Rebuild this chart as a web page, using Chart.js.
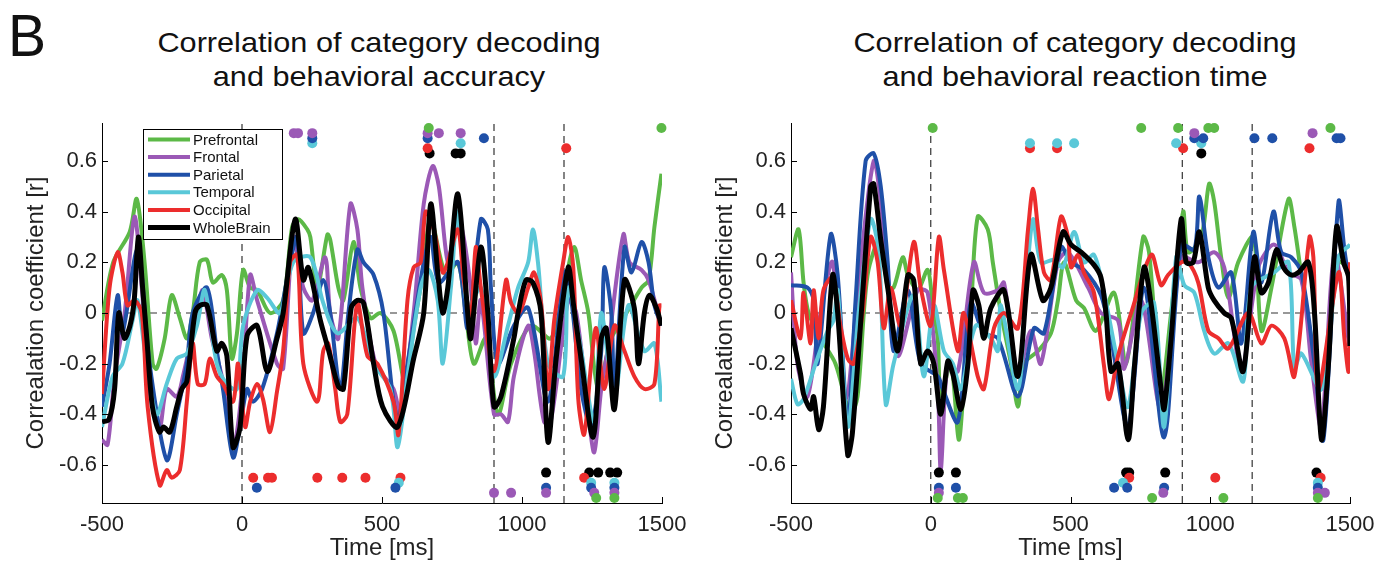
<!DOCTYPE html>
<html lang="en">
<head>
<meta charset="UTF-8">
<title>Correlation of category decoding</title>
<script src="https://cdn.jsdelivr.net/npm/chart.js"></script>
<style>
  body { margin: 0; width: 1394px; height: 567px; background: #fff; position: relative; overflow: hidden;
         font-family: "Liberation Sans", Arial, sans-serif; color: #111; }
  .painel { position: absolute; top: 0; width: 697px; height: 567px; }
  .titulo { position: absolute; top: 26px; width: 600px; text-align: center; font-size: 28px; line-height: 34px;
            transform: scaleX(1.095); transform-origin: center; }
  .letra { position: absolute; left: 8px; top: 6px; font-size: 60px; line-height: 60px;
           transform: scaleX(0.95); transform-origin: left; }
</style>
</head>
<body>
<div class="letra">B</div>
<div class="titulo" style="left:79px">Correlation of category decoding<br>and behavioral accuracy</div>
<div class="titulo" style="left:775px">Correlation of category decoding<br>and behavioral reaction time</div>
<div class="painel" style="left:0"><canvas id="graficoAcuracia"></canvas></div>
<div class="painel" style="left:697px"><canvas id="graficoTempo"></canvas></div>

<script>
  // regiões e cores
  const regioes = ['Prefrontal', 'Frontal', 'Parietal', 'Temporal', 'Occipital', 'WholeBrain'];
  const cores = ['#5cb947', '#9b59b6', '#1f50a8', '#5ac8d8', '#ec2d2d', '#000000'];
  const xTicks = [-500, 0, 500, 1000, 1500];
  const yTicks = [-0.6, -0.4, -0.2, 0, 0.2, 0.4, 0.6];
  const linhasRef = [0, 900, 1150];
  const nivelTopo = [0.73, 0.71, 0.69, 0.67, 0.65, 0.63];
  const nivelBase = [-0.73, -0.71, -0.69, -0.67, -0.65, -0.63];

  // acurácia [tempo ms, r]
  const accPrefrontal = [[-500,-0.03],[-460,0.2],[-401,0.32],[-376,0.45],[-348,0.2],[-319,-0.2],[-305,-0.22],[-276,-0.1],[-251,0.07],[-222,-0.02],[-197,-0.1],[-176,0.0],[-151,0.2],[-125,0.21],[-104,0.12],[-72,0.15],[-54,0.09],[-36,-0.18],[-18,-0.08],[4,0.17],[29,0.1],[54,0.09],[100,0.0],[147,0.05],[179,0.34],[201,0.37],[233,0.33],[244,0.3],[269,0.1],[305,0.31],[315,0.29],[344,0.1],[362,0.05],[398,0.28],[423,0.1],[459,-0.02],[495,0.0],[541,-0.07],[584,-0.28],[613,-0.06],[645,0.15],[674,0.37],[728,0.15],[771,0.2],[799,0.0],[828,-0.2],[871,-0.1],[914,-0.4],[961,-0.2],[1032,-0.05],[1104,-0.1],[1150,0.1],[1186,0.26],[1211,0.13],[1237,0.0],[1272,-0.3],[1319,-0.1],[1373,0.0],[1427,0.1],[1452,0.13],[1473,0.34],[1498,0.55]];
  const accFrontal = [[-500,-0.5],[-480,-0.52],[-455,-0.25],[-419,0.0],[-384,0.38],[-358,0.1],[-330,-0.3],[-294,-0.45],[-269,-0.3],[-233,-0.33],[-211,-0.25],[-161,0.0],[-140,0.09],[-108,-0.1],[-72,-0.25],[-32,-0.53],[0,-0.3],[29,0.15],[54,0.05],[125,-0.2],[147,-0.22],[183,0.3],[219,0.1],[251,0.05],[297,0.22],[315,0.0],[344,-0.1],[387,0.43],[412,0.33],[430,0.1],[477,-0.2],[541,-0.3],[566,-0.4],[613,0.0],[649,0.43],[681,0.58],[703,0.5],[735,0.2],[756,0.3],[781,0.35],[817,0.1],[835,-0.12],[853,0.05],[900,-0.4],[925,-0.4],[950,-0.43],[971,-0.25],[1022,-0.05],[1043,-0.15],[1079,-0.43],[1104,-0.42],[1165,0.05],[1194,0.0],[1237,-0.4],[1258,-0.55],[1283,-0.3],[1308,-0.13],[1362,0.31],[1384,0.2],[1427,0.17],[1452,0.13],[1498,-0.05]];
  const accParietal = [[-500,-0.37],[-473,-0.2],[-444,0.07],[-427,-0.08],[-373,0.25],[-330,-0.2],[-269,-0.58],[-233,-0.4],[-197,-0.2],[-176,0.0],[-125,0.1],[-90,-0.15],[-68,-0.3],[-32,-0.57],[-7,-0.45],[18,-0.3],[39,-0.35],[72,-0.3],[125,-0.08],[172,0.2],[197,0.3],[219,-0.08],[254,0.0],[290,0.13],[315,0.0],[351,-0.3],[380,0.0],[412,0.25],[434,0.2],[470,0.15],[505,0.0],[541,-0.35],[559,-0.42],[591,-0.2],[649,0.2],[674,0.3],[703,0.12],[771,0.2],[806,-0.06],[853,0.37],[878,0.33],[889,0.1],[914,-0.2],[971,-0.05],[1022,0.02],[1093,-0.35],[1151,0.16],[1176,0.05],[1211,-0.3],[1247,-0.45],[1283,-0.15],[1294,0.18],[1319,0.0],[1330,-0.33],[1366,0.26],[1391,0.16],[1427,0.28],[1452,0.2],[1473,0.03],[1498,-0.05]];
  const accTemporal = [[-500,-0.45],[-462,-0.25],[-427,-0.2],[-391,-0.03],[-373,0.05],[-341,-0.2],[-305,-0.4],[-269,-0.28],[-233,-0.18],[-197,-0.16],[-161,-0.05],[-133,0.09],[-90,-0.2],[-54,-0.28],[-18,-0.3],[4,-0.05],[54,0.09],[90,0.06],[136,0.0],[183,0.2],[244,0.22],[290,0.04],[341,-0.08],[412,-0.02],[470,-0.2],[530,-0.3],[556,-0.53],[591,-0.25],[638,0.1],[667,0.17],[699,0.05],[717,-0.2],[746,0.1],[771,0.4],[806,0.02],[853,0.1],[900,-0.25],[950,-0.05],[986,0.1],[1022,0.2],[1039,0.33],[1057,0.2],[1093,-0.2],[1147,-0.25],[1165,0.1],[1204,-0.1],[1258,-0.43],[1283,0.0],[1330,-0.33],[1380,0.03],[1437,-0.15],[1473,-0.12],[1498,-0.35]];
  const accOccipital = [[-500,-0.32],[-473,0.1],[-444,0.24],[-427,0.16],[-409,0.03],[-384,0.05],[-358,0.0],[-337,-0.37],[-294,-0.68],[-269,-0.62],[-251,-0.65],[-222,-0.62],[-197,-0.35],[-176,-0.12],[-158,-0.28],[-133,-0.28],[-115,-0.18],[-90,-0.25],[-68,-0.28],[-32,-0.35],[-14,-0.2],[11,-0.45],[29,-0.35],[54,-0.28],[75,-0.34],[100,-0.47],[125,-0.31],[147,-0.15],[172,0.2],[197,0.23],[219,-0.2],[269,-0.35],[290,-0.15],[308,-0.12],[333,-0.3],[351,-0.43],[376,-0.4],[412,0.04],[448,-0.17],[484,-0.2],[541,-0.35],[559,-0.48],[591,0.05],[613,0.18],[638,0.2],[656,0.4],[685,0.33],[717,0.16],[735,0.2],[771,0.33],[792,0.13],[817,-0.01],[835,0.26],[853,0.1],[900,-0.23],[943,0.13],[961,0.04],[989,0.0],[1022,0.1],[1043,0.16],[1068,0.04],[1093,-0.3],[1115,-0.03],[1147,0.2],[1165,0.3],[1183,0.18],[1201,-0.34],[1222,-0.48],[1247,-0.2],[1265,-0.06],[1294,-0.3],[1330,-0.05],[1366,-0.15],[1401,-0.25],[1437,-0.3],[1473,-0.28],[1491,0.03],[1498,0.03]];
  const accWholeBrain = [[-500,-0.43],[-475,-0.42],[-455,-0.3],[-440,0.0],[-420,-0.1],[-400,-0.05],[-385,0.05],[-370,0.3],[-355,0.1],[-340,-0.1],[-320,-0.37],[-295,-0.47],[-280,-0.45],[-258,-0.47],[-233,-0.37],[-215,-0.3],[-197,-0.27],[-168,0.0],[-150,0.03],[-125,0.03],[-90,-0.15],[-72,-0.12],[-54,-0.17],[-32,-0.53],[-7,-0.45],[18,-0.09],[54,-0.05],[90,-0.23],[125,-0.1],[147,0.0],[190,0.37],[219,0.13],[237,0.18],[280,-0.03],[310,-0.15],[344,-0.29],[362,-0.3],[390,0.02],[412,0.05],[434,0.04],[470,-0.2],[502,-0.37],[556,-0.45],[613,-0.18],[649,0.0],[674,0.43],[700,0.15],[717,0.0],[735,0.1],[771,0.47],[806,0.0],[817,-0.1],[853,0.26],[878,0.0],[900,-0.37],[925,-0.33],[971,-0.1],[986,0.0],[1014,0.13],[1039,0.12],[1068,0.0],[1093,-0.51],[1122,-0.18],[1165,0.18],[1183,0.04],[1211,-0.18],[1254,-0.49],[1283,-0.1],[1301,-0.06],[1330,-0.38],[1366,0.13],[1401,0.02],[1416,-0.2],[1437,0.0],[1455,0.07],[1480,0.02],[1498,-0.05]];

  // tempo de reação [tempo ms, r]
  const rtPrefrontal = [[-500,0.22],[-473,0.33],[-455,0.12],[-437,0.0],[-394,-0.1],[-341,-0.2],[-287,-0.4],[-262,-0.33],[-226,0.15],[-179,0.3],[-154,0.1],[-133,0.1],[-100,0.22],[-82,0.15],[-47,0.09],[-11,0.17],[7,0.03],[25,-0.1],[36,-0.33],[72,-0.2],[100,-0.5],[118,-0.3],[143,0.0],[168,0.38],[204,0.33],[222,0.2],[251,0.0],[287,-0.2],[312,-0.37],[333,-0.2],[384,-0.15],[430,-0.08],[455,0.05],[477,0.2],[520,0.05],[548,0.02],[591,-0.07],[656,0.08],[699,-0.2],[760,0.3],[781,0.24],[824,-0.3],[860,0.0],[903,0.4],[921,0.24],[968,0.3],[996,0.51],[1014,0.44],[1039,0.22],[1065,0.06],[1100,0.2],[1154,0.3],[1183,-0.07],[1219,0.1],[1280,0.45],[1301,0.34],[1326,0.15],[1362,-0.1],[1398,-0.3],[1434,0.0],[1459,0.2],[1498,0.18]];
  const rtFrontal = [[-500,0.16],[-477,-0.2],[-441,-0.33],[-394,0.0],[-351,0.2],[-305,-0.34],[-251,0.2],[-204,0.6],[-179,0.44],[-154,0.15],[-118,-0.17],[-47,0.09],[-11,0.08],[25,-0.3],[36,-0.62],[61,-0.2],[97,-0.23],[154,0.2],[190,0.08],[240,0.09],[262,0.12],[312,-0.24],[358,-0.07],[394,-0.2],[455,0.2],[491,0.24],[563,0.1],[609,0.0],[670,-0.03],[692,-0.22],[753,0.05],[824,-0.38],[896,0.22],[957,0.2],[1014,0.24],[1050,0.18],[1111,-0.22],[1172,0.18],[1229,0.27],[1280,0.16],[1326,0.13],[1362,-0.2],[1398,-0.45],[1444,0.23],[1498,-0.13]];
  const rtParietal = [[-500,0.11],[-441,0.1],[-419,0.05],[-405,-0.2],[-358,0.31],[-333,0.15],[-297,-0.43],[-269,0.05],[-233,0.6],[-204,0.63],[-179,0.5],[-154,0.2],[-133,-0.15],[-82,0.09],[-36,-0.2],[25,-0.25],[43,-0.3],[97,-0.43],[143,0.04],[190,-0.08],[240,-0.1],[312,-0.33],[369,-0.06],[405,-0.08],[466,0.26],[502,0.2],[548,0.17],[609,0.07],[645,-0.1],[706,-0.45],[763,0.1],[835,-0.49],[896,0.27],[943,0.25],[961,0.46],[993,0.22],[1029,0.1],[1075,0.16],[1111,-0.12],[1154,0.32],[1183,0.12],[1226,0.4],[1254,0.24],[1290,0.22],[1326,0.16],[1373,-0.2],[1405,-0.5],[1459,0.44],[1480,0.25],[1500,0.1]];
  const rtTemporal = [[-500,-0.26],[-477,-0.36],[-455,-0.34],[-412,-0.2],[-369,-0.07],[-348,-0.03],[-333,0.09],[-297,-0.45],[-258,0.0],[-215,0.37],[-186,0.24],[-161,-0.36],[-133,-0.2],[-61,0.07],[-25,-0.25],[11,0.03],[47,-0.15],[79,-0.2],[108,-0.3],[161,-0.05],[215,-0.1],[240,-0.15],[251,0.03],[312,-0.3],[341,0.1],[366,0.37],[394,0.2],[441,0.21],[473,0.18],[513,0.32],[548,0.2],[584,0.23],[620,0.08],[670,-0.2],[706,-0.37],[753,0.0],[799,0.04],[835,-0.45],[878,0.22],[907,0.11],[943,0.08],[978,-0.07],[1014,-0.16],[1065,-0.12],[1118,-0.27],[1147,0.1],[1229,0.16],[1280,0.2],[1301,-0.22],[1326,-0.16],[1398,-0.3],[1459,0.22],[1500,0.27]];
  const rtOccipital = [[-500,0.05],[-466,-0.1],[-455,0.08],[-430,-0.12],[-419,0.09],[-401,-0.1],[-384,0.09],[-351,0.14],[-323,-0.05],[-297,-0.18],[-276,-0.2],[-244,0.0],[-215,0.3],[-190,0.2],[-168,-0.06],[-143,0.1],[-108,-0.05],[-61,0.28],[-36,0.1],[0,-0.05],[29,0.3],[47,0.17],[97,-0.15],[118,0.0],[168,-0.25],[190,-0.3],[226,-0.06],[262,0.0],[312,-0.06],[348,0.33],[366,0.49],[384,0.33],[405,0.16],[430,0.13],[466,0.38],[491,0.3],[502,0.18],[527,0.23],[548,0.16],[584,0.08],[620,-0.21],[638,-0.34],[670,-0.17],[717,0.0],[789,0.23],[824,0.11],[849,0.15],[896,0.2],[921,0.2],[957,0.12],[993,-0.07],[1029,-0.1],[1065,-0.14],[1136,0.0],[1183,-0.12],[1219,-0.05],[1265,-0.1],[1301,-0.25],[1355,0.3],[1369,0.22],[1387,-0.3],[1459,0.16],[1480,-0.1],[1495,-0.23],[1500,0.2]];
  const rtWholeBrain = [[-500,-0.06],[-466,-0.24],[-455,-0.32],[-430,-0.38],[-419,-0.33],[-401,-0.46],[-384,-0.37],[-351,0.15],[-333,0.0],[-297,-0.56],[-280,-0.47],[-215,0.5],[-204,0.51],[-179,0.29],[-154,0.1],[-118,-0.15],[-82,0.15],[-61,0.13],[-36,-0.2],[-11,-0.15],[11,-0.2],[36,-0.4],[61,-0.19],[79,-0.24],[108,-0.38],[133,-0.2],[151,0.09],[172,0.03],[190,-0.1],[215,0.02],[262,0.09],[312,-0.25],[358,0.23],[401,0.05],[430,0.1],[473,0.32],[502,0.27],[538,0.24],[584,0.19],[609,0.14],[627,0.0],[645,-0.23],[670,-0.2],[706,-0.5],[728,-0.22],[763,0.18],[789,0.03],[824,-0.3],[835,-0.38],[860,-0.1],[896,0.37],[914,0.2],[939,0.2],[961,0.32],[993,0.1],[1014,0.05],[1050,0.0],[1075,-0.02],[1118,-0.23],[1158,0.22],[1183,0.08],[1208,0.12],[1237,0.25],[1262,0.18],[1290,0.15],[1315,0.16],[1351,0.2],[1373,0.0],[1398,-0.5],[1423,-0.2],[1452,0.34],[1477,0.2],[1495,0.14],[1500,-0.13]];

  // pontos de significância (ms), na ordem das regiões
  const accSigTopo = [[667, 1498], [185, 200, 251, 663, 703, 781], [251, 663, 864], [251, 781], [663, 1158], [670, 763, 781]];
  const accSigBase = [[1265, 1330], [900, 961, 1086, 1258, 1330], [53, 548, 1086, 1247, 1330], [560, 1247, 1330], [40, 93, 107, 269, 358, 441, 566, 1222], [1086, 1240, 1272, 1315, 1340]];
  const rtSigTopo = [[7, 753, 885, 993, 1014, 1430], [943, 1366], [943, 975, 1158, 1222, 1452, 1466], [355, 452, 513, 878, 968], [355, 452, 903, 1355], [968]];
  const rtSigBase = [[25, 97, 115, 792, 1047, 1385], [29, 832, 1385, 1410], [29, 90, 656, 703, 835, 1385], [688, 1385], [710, 1018, 1395], [29, 90, 699, 710, 839, 1380]];

  const fonte = '"Liberation Sans", Arial, sans-serif';

  function montarDatasets(series, sigTopo, sigBase) {
    const ds = [];
    series.forEach((s, i) => {
      ds.push({
        label: regioes[i],
        emLegenda: true,
        data: s.map(p => ({ x: p[0], y: p[1] })),
        borderColor: cores[i],
        borderWidth: i === 5 ? 5 : 4,
        borderJoinStyle: 'round',
        pointRadius: 0,
        tension: 0.3,
        order: 6 - i
      });
      const pts = sigTopo[i].map(t => ({ x: t, y: nivelTopo[i] }))
        .concat(sigBase[i].map(t => ({ x: t, y: nivelBase[i] })));
      ds.push({
        type: 'scatter',
        data: pts,
        backgroundColor: cores[i],
        borderWidth: 0,
        pointRadius: 5,
        clip: false,
        order: 0
      });
    });
    linhasRef.forEach(t => {
      ds.push({ data: [{ x: t, y: -0.75 }, { x: t, y: 0.75 }], borderColor: '#333', borderWidth: 1.2,
                borderDash: [7, 5], pointRadius: 0, order: 20 });
    });
    ds.push({ data: [{ x: -500, y: 0 }, { x: 1500, y: 0 }], borderColor: '#333', borderWidth: 1.2,
              borderDash: [7, 5], pointRadius: 0, order: 20 });
    return ds;
  }

  const marcasInternas = {
    id: 'marcasInternas',
    afterDatasetsDraw(chart) {
      const { ctx, chartArea: a, scales: { x, y } } = chart;
      ctx.save();
      ctx.strokeStyle = '#000';
      ctx.lineWidth = 1;
      ctx.beginPath();
      y.ticks.forEach(t => {
        const py = Math.round(y.getPixelForValue(t.value)) + 0.5;
        ctx.moveTo(a.left, py); ctx.lineTo(a.left + 6, py);
      });
      x.ticks.forEach(t => {
        const px = Math.round(x.getPixelForValue(t.value)) + 0.5;
        ctx.moveTo(px, a.bottom); ctx.lineTo(px, a.bottom - 6);
      });
      ctx.stroke();
      ctx.restore();
    }
  };

  const legendaInterna = {
    id: 'legendaInterna',
    afterDraw(chart) {
      if (!chart.options.plugins.legendaInterna.mostrar) return;
      const { ctx, chartArea: a } = chart;
      const itens = chart.data.datasets.filter(d => d.emLegenda);
      const x0 = a.left + 41, y0 = a.top + 6, w = 139, h = 110;
      ctx.save();
      ctx.fillStyle = '#fff';
      ctx.fillRect(x0, y0, w, h);
      ctx.strokeStyle = '#000';
      ctx.lineWidth = 1;
      ctx.strokeRect(x0 + 0.5, y0 + 0.5, w, h);
      ctx.font = '15px ' + fonte;
      ctx.textBaseline = 'middle';
      itens.forEach((d, i) => {
        const yy = y0 + 10.5 + i * 17.6;
        ctx.strokeStyle = d.borderColor;
        ctx.lineWidth = d.borderWidth;
        ctx.beginPath();
        ctx.moveTo(x0 + 5, yy); ctx.lineTo(x0 + 47, yy);
        ctx.stroke();
        ctx.fillStyle = '#111';
        ctx.fillText(d.label, x0 + 50, yy + 1);
      });
      ctx.restore();
    }
  };

  function criarGrafico(id, series, sigTopo, sigBase, padding, legenda) {
    return new Chart(document.getElementById(id), {
      type: 'line',
      data: { datasets: montarDatasets(series, sigTopo, sigBase) },
      options: {
        responsive: true,
        maintainAspectRatio: false,
        animation: false,
        layout: { padding: padding },
        plugins: {
          legend: { display: false },
          tooltip: { enabled: false },
          legendaInterna: { mostrar: legenda }
        },
        scales: {
          x: {
            type: 'linear',
            min: -500,
            max: 1500,
            afterBuildTicks: s => { s.ticks = xTicks.map(v => ({ value: v })); },
            afterFit: s => { s.height = 64; },
            grid: { display: true, drawOnChartArea: false, drawTicks: false },
            border: { display: true, color: '#000', width: 1 },
            ticks: { color: '#222', padding: 9, font: { size: 22, family: fonte }, callback: v => String(v) },
            title: { display: true, text: 'Time [ms]', color: '#222', padding: { top: 2, bottom: 4 },
                     font: { size: 24, family: fonte } }
          },
          y: {
            min: -0.75,
            max: 0.75,
            afterBuildTicks: s => { s.ticks = yTicks.map(v => ({ value: v })); },
            afterFit: s => { s.width = 84; },
            grid: { display: true, drawOnChartArea: false, drawTicks: false },
            border: { display: true, color: '#000', width: 1 },
            ticks: {
              color: '#222', padding: 5,
              font: { size: 22, family: fonte },
              callback: v => (Math.abs(v) < 1e-9 ? '0' : v.toFixed(1))
            },
            title: { display: true, text: 'Correalation coefficient [r]', color: '#222',
                     font: { size: 24, family: fonte } }
          }
        }
      },
      plugins: [marcasInternas, legendaInterna]
    });
  }

  criarGrafico('graficoAcuracia',
    [accPrefrontal, accFrontal, accParietal, accTemporal, accOccipital, accWholeBrain],
    accSigTopo, accSigBase, { left: 18, right: 35, top: 123, bottom: 0 }, true);

  criarGrafico('graficoTempo',
    [rtPrefrontal, rtFrontal, rtParietal, rtTemporal, rtOccipital, rtWholeBrain],
    rtSigTopo, rtSigBase, { left: 10, right: 44, top: 123, bottom: 0 }, false);
</script>
</body>
</html>
